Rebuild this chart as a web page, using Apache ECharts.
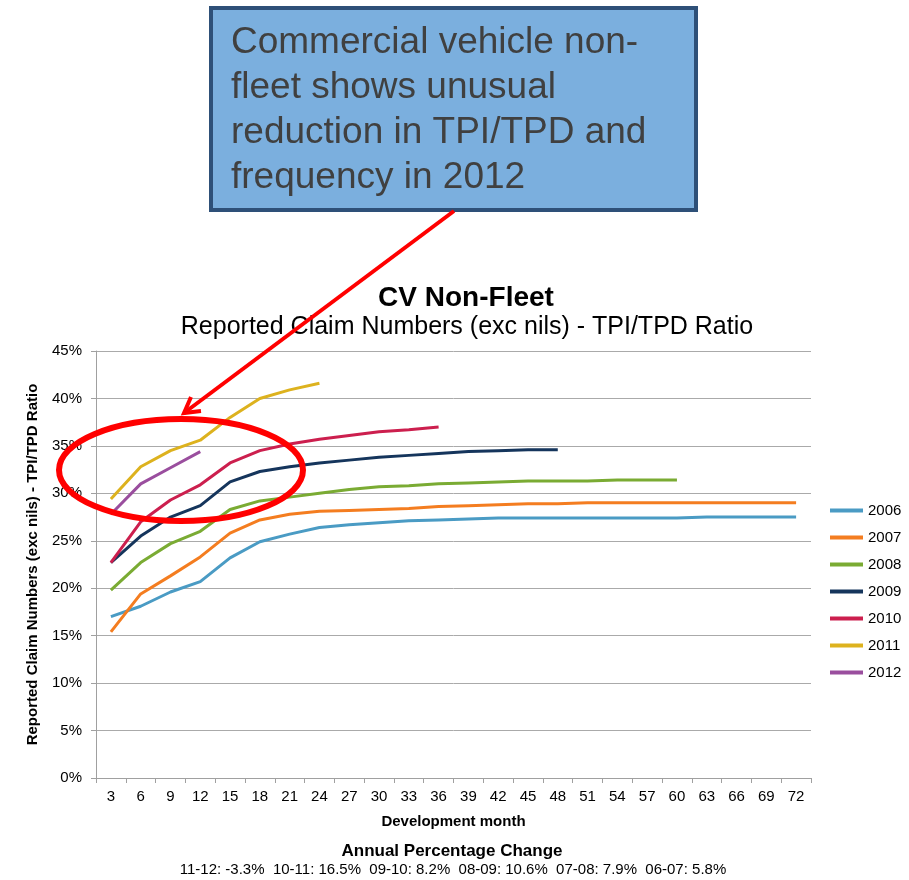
<!DOCTYPE html>
<html>
<head>
<meta charset="utf-8">
<script src="https://cdn.jsdelivr.net/npm/echarts@6/dist/echarts.min.js"></script>
<style>
  html, body { margin: 0; padding: 0; background: #fff; }
  #chart { width: 909px; height: 880px; }
</style>
</head>
<body>
<div id="chart"></div>
<script>
const months = ["3", "6", "9", "12", "15", "18", "21", "24", "27", "30", "33", "36",
  "39", "42", "45", "48", "51", "54", "57", "60", "63", "66", "69", "72"];

// TPI/TPD ratio (%) by development month
const y2006 = [17.0, 18.1, 19.6, 20.7, 23.2, 24.9, 25.7, 26.4, 26.7, 26.9, 27.1, 27.2,
  27.3, 27.4, 27.4, 27.4, 27.4, 27.4, 27.4, 27.4, 27.5, 27.5, 27.5, 27.5];
const y2007 = [15.4, 19.4, 21.3, 23.3, 25.8, 27.2, 27.8, 28.1, 28.2, 28.3, 28.4, 28.6,
  28.7, 28.8, 28.9, 28.9, 29.0, 29.0, 29.0, 29.0, 29.0, 29.0, 29.0, 29.0];
const y2008 = [19.8, 22.7, 24.7, 26.0, 28.3, 29.2, 29.6, 30.0, 30.4, 30.7, 30.8, 31.0,
  31.1, 31.2, 31.3, 31.3, 31.3, 31.4, 31.4, 31.4];
const y2009 = [22.7, 25.5, 27.5, 28.7, 31.2, 32.3, 32.8, 33.2, 33.5, 33.8, 34.0, 34.2,
  34.4, 34.5, 34.6, 34.6];
const y2010 = [22.7, 27.0, 29.3, 30.9, 33.2, 34.5, 35.2, 35.7, 36.1, 36.5, 36.7, 37.0];
const y2011 = [29.4, 32.8, 34.5, 35.6, 38.0, 40.0, 40.9, 41.6];
const y2012 = [27.8, 31.0, 32.7, 34.4];

const years = ["2006", "2007", "2008", "2009", "2010", "2011", "2012"];
const yearData = [y2006, y2007, y2008, y2009, y2010, y2011, y2012];
const colors = ["#4A9BC4", "#F47D20", "#7AAB33", "#15355C", "#CC1F4E", "#DDB21E", "#9A4E9E"];

const changeText = "11-12: -3.3%  10-11: 16.5%  09-10: 8.2%  08-09: 10.6%  07-08: 7.9%  06-07: 5.8%";
const noteText = "Commercial vehicle non-\nfleet shows unusual\nreduction in TPI/TPD and\nfrequency in 2012";

const FONT = "Liberation Sans, Arial, sans-serif";

const series = years.map((name, i) => ({
  name: name,
  type: "line",
  symbol: "none",
  data: yearData[i],
  lineStyle: { width: 3, color: colors[i] },
  itemStyle: { color: colors[i] }
}));

const option = {
  animation: false,
  textStyle: { fontFamily: FONT },
  grid: { left: 96, right: 98, top: 351, bottom: 102 },
  legend: {
    orient: "vertical",
    left: 825,
    top: 498,
    icon: "rect",
    itemWidth: 33,
    itemHeight: 4,
    itemGap: 12,
    textStyle: { fontSize: 15, color: "#000", fontFamily: FONT },
    data: years
  },
  xAxis: {
    type: "category",
    data: months,
    boundaryGap: true,
    name: "Development month",
    nameLocation: "middle",
    nameGap: 36,
    nameTextStyle: { fontSize: 15, fontWeight: "bold", color: "#000" },
    axisLine: { lineStyle: { color: "#A0A0A0" } },
    axisTick: { show: true, interval: 0, length: 5, lineStyle: { color: "#A0A0A0" } },
    axisLabel: { interval: 0, fontSize: 15, color: "#000", margin: 11 }
  },
  yAxis: {
    type: "value",
    min: 0,
    max: 45,
    interval: 5,
    name: "Reported Claim Numbers (exc nils) - TPI/TPD Ratio",
    nameLocation: "middle",
    nameGap: 56,
    nameTextStyle: { fontSize: 15, fontWeight: "bold", color: "#000" },
    axisLine: { show: true, lineStyle: { color: "#A0A0A0" } },
    axisTick: { show: true, length: 5, lineStyle: { color: "#A0A0A0" } },
    axisLabel: { fontSize: 15, color: "#000", margin: 14, formatter: v => v + "%" },
    splitLine: { lineStyle: { color: "#AAAAAA" } }
  },
  graphic: [
    { type: "text", x: 466, y: 298, z: 50,
      style: { text: "CV Non-Fleet", font: "bold 28px " + FONT, fill: "#000",
        textAlign: "center", textVerticalAlign: "middle" } },
    { type: "text", x: 467, y: 327, z: 50,
      style: { text: "Reported Claim Numbers (exc nils) - TPI/TPD Ratio", font: "25px " + FONT,
        fill: "#000", textAlign: "center", textVerticalAlign: "middle" } },
    { type: "text", x: 452, y: 851, z: 50,
      style: { text: "Annual Percentage Change", font: "bold 17px " + FONT, fill: "#000",
        textAlign: "center", textVerticalAlign: "middle" } },
    { type: "text", x: 453, y: 870, z: 50,
      style: { text: changeText, font: "15px " + FONT, fill: "#000",
        textAlign: "center", textVerticalAlign: "middle" } },
    // callout box
    { type: "rect", z: 100,
      shape: { x: 211, y: 8, width: 485, height: 202 },
      style: { fill: "#7BAFDE", stroke: "#2E5078", lineWidth: 4 } },
    { type: "text", x: 231, y: 20, z: 101,
      style: { text: noteText, font: "37px " + FONT, fill: "#404040", lineHeight: 45,
        textVerticalAlign: "top" } },
    // arrow
    { type: "line", z: 100,
      shape: { x1: 454, y1: 211, x2: 184, y2: 413 },
      style: { stroke: "#FF0000", lineWidth: 4 } },
    { type: "polyline", z: 100,
      shape: { points: [[191, 397], [184, 413], [201, 411]] },
      style: { stroke: "#FF0000", lineWidth: 4, fill: null } },
    // circle
    { type: "ellipse", z: 100,
      shape: { cx: 181, cy: 470, rx: 122, ry: 51 },
      style: { stroke: "#FF0000", lineWidth: 6, fill: null } }
  ],
  series: series
};

const chart = echarts.init(document.getElementById("chart"));
chart.setOption(option);
</script>
</body>
</html>
